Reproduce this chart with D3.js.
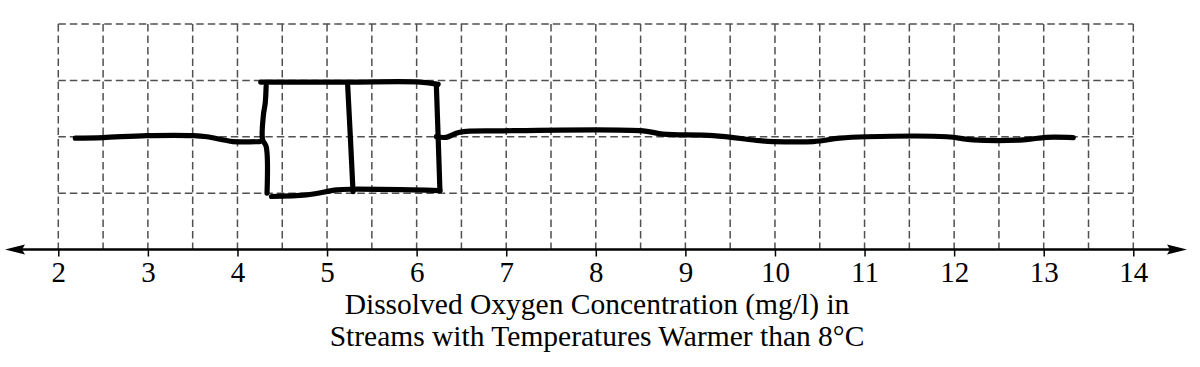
<!DOCTYPE html>
<html>
<head>
<meta charset="utf-8">
<script src="https://cdn.jsdelivr.net/npm/d3@7"></script>
<style>
  html, body { margin: 0; padding: 0; background: #fff; }
</style>
</head>
<body>
<svg id="chart" width="1200" height="367" style="font-family: 'Liberation Serif', serif;"></svg>
<script>
// ---- data ----
const tickValues = [2, 3, 4, 5, 6, 7, 8, 9, 10, 11, 12, 13, 14];
const gridXValues = d3.range(2, 14.01, 0.5);
const gridRowValues = [1, 2, 3, 4];
const fiveNumberSummary = [2.2, 4.3, 5.25, 6.25, 13.3]; // min, Q1, median, Q3, max
const titleLines = ["Dissolved Oxygen Concentration (mg/l) in", "Streams with Temperatures Warmer than 8\u00B0C"];

// hand-drawn strokes: [value, row]
const whiskerLow = [[2.19, 1.975], [2.5, 1.986], [2.99, 2.02], [3.51, 2.02], [3.66, 2.0], [3.95, 1.915], [4.25, 1.915]];
const whiskerHigh = [[6.22, 2.0], [6.33, 1.99], [6.48, 2.08], [6.97, 2.105], [8.53, 2.105], [8.75, 2.046], [9.31, 2.02], [9.83, 1.93], [9.98, 1.915], [10.43, 1.915], [10.72, 1.975], [11.02, 2.0], [11.92, 2.0], [12.21, 1.945], [12.77, 1.945], [13.03, 1.99], [13.33, 1.985]];
const boxTop = [[4.26, 2.97], [5.23, 2.97], [6.04, 2.97], [6.24, 2.93]];
const boxBottom = [[4.38, 0.94], [4.77, 0.968], [5.11, 1.057], [5.29, 1.069], [6.26, 1.044]];
const boxLeft = [[4.32, 2.9], [4.31, 2.6], [4.29, 2.39], [4.28, 1.95], [4.32, 1.83], [4.33, 1.0]];
const boxRight = [[6.22, 2.92], [6.24, 2.0], [6.26, 1.044]];
const medianLine = [[5.23, 2.92], [5.26, 2.0], [5.29, 1.027]];

// ---- layout ----
const fontName = "Liberation Serif";
const svg = d3.select("#chart");
const x = d3.scaleLinear().domain([2, 14]).range([58.3, 1133.3]);
const y = d3.scaleLinear().domain([0, 4]).range([249.5, 24]);

// grid
const grid = svg.append("g").attr("stroke", "#505050").attr("stroke-width", 1.5).attr("stroke-dasharray", "7.5,4").attr("fill", "none");
grid.selectAll("line.v").data(gridXValues).join("line")
  .attr("class", "v")
  .attr("x1", d => x(d)).attr("x2", d => x(d))
  .attr("y1", y(4)).attr("y2", y(0));
grid.selectAll("line.h").data(gridRowValues).join("line")
  .attr("class", "h")
  .attr("x1", x(2)).attr("x2", x(14))
  .attr("y1", d => y(d)).attr("y2", d => y(d));

// axis
const axis = d3.axisBottom(x).tickValues(tickValues).tickSize(7).tickPadding(5).tickFormat(d3.format("d"));
const gAxis = svg.append("g").attr("transform", `translate(0,${y(0)})`).call(axis);
gAxis.attr("font-family", fontName).attr("font-size", 29);
gAxis.select(".domain").remove();
gAxis.selectAll(".tick line").attr("stroke", "#000").attr("stroke-width", 1.5);
gAxis.selectAll(".tick text")
  .attr("fill", "#000")
  .attr("font-family", fontName)
  .attr("font-size", 29)
  .style("font-family", `"${fontName}"`);

svg.append("line")
  .attr("x1", 12).attr("x2", 1180)
  .attr("y1", y(0)).attr("y2", y(0))
  .attr("stroke", "#000").attr("stroke-width", 2.5);
svg.append("path").attr("d", `M5,${y(0)} L25,${y(0) - 5} L22,${y(0)} L25,${y(0) + 5} Z`).attr("fill", "#000");
svg.append("path").attr("d", `M1187,${y(0)} L1167,${y(0) - 5} L1170,${y(0)} L1167,${y(0) + 5} Z`).attr("fill", "#000");

// title
svg.selectAll("text.title").data(titleLines).join("text")
  .attr("class", "title")
  .attr("x", 597)
  .attr("y", (d, i) => 314 + i * 32)
  .attr("text-anchor", "middle")
  .attr("fill", "#000")
  .attr("font-family", fontName)
  .attr("font-size", 29.5)
  .style("font-family", `"${fontName}"`)
  .text(d => d);

// box plot strokes
const line = d3.line().x(d => x(d[0])).y(d => y(d[1])).curve(d3.curveCatmullRom.alpha(0.5));
const strokes = [whiskerLow, whiskerHigh, boxTop, boxBottom, boxLeft, boxRight, medianLine];
svg.append("g").selectAll("path").data(strokes).join("path")
  .attr("d", line)
  .attr("fill", "none")
  .attr("stroke", "#000")
  .attr("stroke-width", 5.2)
  .attr("stroke-linecap", "round")
  .attr("stroke-linejoin", "round");
</script>
</body>
</html>
